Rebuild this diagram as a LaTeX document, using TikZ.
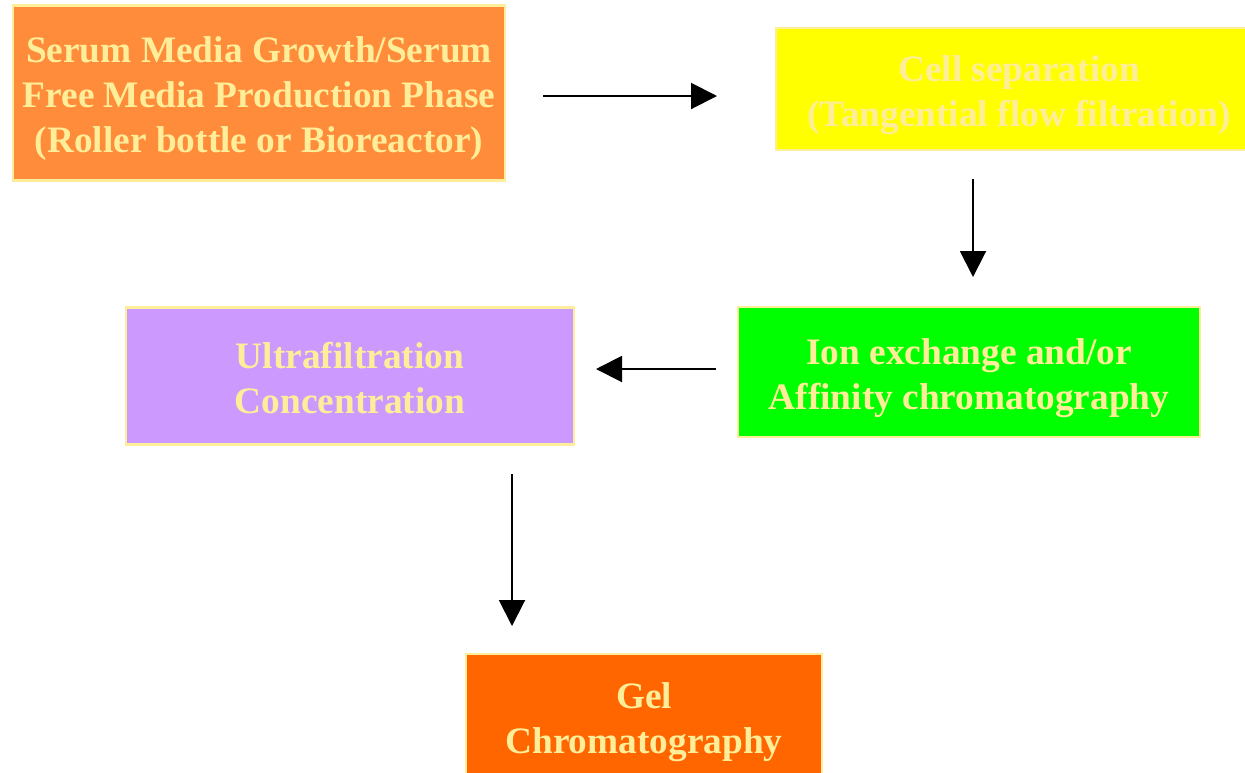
\documentclass[tikz,border=0pt]{standalone}
\usepackage{fontspec}
\setmainfont{Liberation Serif}
\usetikzlibrary{arrows.meta}
\definecolor{boxA}{HTML}{FF8C3A}
\definecolor{boxB}{HTML}{FFFF00}
\definecolor{boxC}{HTML}{00FF00}
\definecolor{boxD}{HTML}{CC99FF}
\definecolor{boxE}{HTML}{FF6600}
\definecolor{pale}{HTML}{FFEE99}
\tikzset{
  stepbox/.style={draw=pale, line width=2pt, inner sep=0pt},
  steptext/.style={text=pale, align=center, inner sep=0pt,
    font=\fontsize{28}{33.4}\selectfont\bfseries},
  flow/.style={line width=1.5pt, -{Triangle[length=19.5pt,width=19.5pt]}}
}
\begin{document}
\begin{tikzpicture}[x=0.75pt,y=-0.75pt]
\useasboundingbox (0,0) rectangle (1245,772);
\node[stepbox, fill=boxA, minimum width=492*0.75pt, minimum height=175*0.75pt] (grow) at (259,93) {};
\node[steptext] (growt) at ([shift={(0,5.5)}]grow.center)
  {Serum Media Growth/Serum\\Free Media Production Phase\\(Roller bottle or Bioreactor)};
\node[stepbox, fill=boxB, minimum width=472*0.75pt, minimum height=122*0.75pt] (cell) at (1012,89) {};
\node[steptext] (cellt) at ([shift={(7,6)}]cell.center)
  {Cell separation\\(Tangential flow filtration)};
\node[stepbox, fill=boxC, minimum width=462*0.75pt, minimum height=130*0.75pt] (ion) at (969,372) {};
\node[steptext] (iont) at ([shift={(0,6)}]ion.center)
  {Ion exchange and/or\\Affinity chromatography};
\node[stepbox, fill=boxD, minimum width=448*0.75pt, minimum height=137*0.75pt] (ultra) at (350,376) {};
\node[steptext] (ultrat) at ([shift={(0,2)}]ultra.center)
  {Ultrafiltration\\Concentration};
\node[stepbox, fill=boxE, minimum width=356*0.75pt, minimum height=130*0.75pt] (gel) at (644,719) {};
\node[steptext] (gelt) at ([shift={(0,3)}]gel.center)
  {Gel\\Chromatography};
\coordinate (a1s) at (543,96);
\coordinate (a1e) at (717,96);
\coordinate (a2s) at (973,179);
\coordinate (a2e) at (973,277);
\coordinate (a3s) at (716,369);
\coordinate (a3e) at (596,369);
\coordinate (a4s) at (512,474);
\coordinate (a4e) at (512,626);
\draw[flow] (a1s) -- (a1e);
\draw[flow] (a2s) -- (a2e);
\draw[flow] (a3s) -- (a3e);
\draw[flow] (a4s) -- (a4e);
\end{tikzpicture}
\end{document}
